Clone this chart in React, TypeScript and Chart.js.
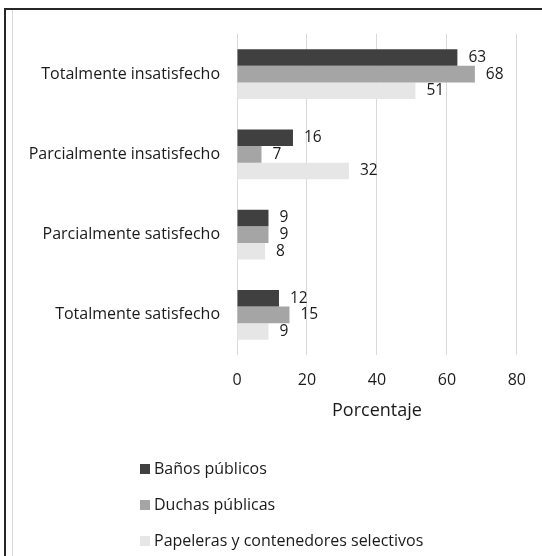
import React, { useEffect, useRef } from "react";
import { Chart, registerables } from "chart.js";

Chart.register(...registerables);

const categories = [
  "Totalmente insatisfecho",
  "Parcialmente insatisfecho",
  "Parcialmente satisfecho",
  "Totalmente satisfecho",
];
const banosPublicos = [63, 16, 9, 12];
const duchasPublicas = [68, 7, 9, 15];
const papeleras = [51, 32, 8, 9];
const seriesNames = [
  "Baños públicos",
  "Duchas públicas",
  "Papeleras y contenedores selectivos",
];
const seriesColors = ["#404040", "#a5a5a5", "#e7e6e6"];
const xTicksMin = 0;
const xTicksMax = 80;
const xTicksStep = 20;
const axisTitle = "Porcentaje";

const FONT = "'Open Sans'";
const TEXT = "#1a1a1a";

const valueLabels = {
  id: "valueLabels",
  afterDatasetsDraw(chart: any) {
    const ctx = chart.ctx;
    ctx.save();
    ctx.font = `15.5px ${FONT}`;
    ctx.fillStyle = TEXT;
    ctx.textAlign = "left";
    ctx.textBaseline = "middle";
    chart.data.datasets.forEach((ds: any, i: number) => {
      const meta = chart.getDatasetMeta(i);
      meta.data.forEach((bar: any, j: number) => {
        ctx.fillText(String(ds.data[j]), bar.x + 11, bar.y);
      });
    });
    ctx.restore();
  },
};

const verticalLegend = {
  id: "verticalLegend",
  afterDraw(chart: any) {
    const ctx = chart.ctx;
    ctx.save();
    ctx.font = `16px ${FONT}`;
    ctx.textAlign = "left";
    ctx.textBaseline = "middle";
    chart.data.datasets.forEach((ds: any, i: number) => {
      const y = 469 + i * 36;
      ctx.fillStyle = ds.backgroundColor;
      ctx.fillRect(140, y - 5, 10, 10);
      ctx.fillStyle = TEXT;
      ctx.fillText(ds.label, 154, y);
    });
    ctx.restore();
  },
};

export default function App() {
  const ref = useRef<HTMLCanvasElement | null>(null);

  useEffect(() => {
    if (!ref.current) return;
    const chart = new Chart(ref.current, {
      type: "bar",
      data: {
        labels: categories,
        datasets: [banosPublicos, duchasPublicas, papeleras].map((d, i) => ({
          label: seriesNames[i],
          data: d,
          backgroundColor: seriesColors[i],
          borderWidth: 0,
          categoryPercentage: 0.622,
          barPercentage: 1,
        })),
      },
      options: {
        indexAxis: "y",
        responsive: false,
        animation: false,
        devicePixelRatio: 1,
        layout: { padding: { top: 34, right: 25, left: 0, bottom: 131 } },
        plugins: {
          legend: { display: false },
          tooltip: { enabled: false },
        },
        scales: {
          y: {
            grid: { display: false, drawTicks: false },
            border: { display: false },
            ticks: {
              color: TEXT,
              font: { family: FONT, size: 16 },
              padding: 17,
            },
            afterFit(scale: any) {
              scale.width = 237;
            },
          },
          x: {
            min: xTicksMin,
            max: xTicksMax,
            grid: { color: "#d9d9d9", lineWidth: 1, drawTicks: false },
            border: { display: false },
            ticks: {
              stepSize: xTicksStep,
              color: TEXT,
              font: { family: FONT, size: 16 },
              padding: 16,
            },
            title: {
              display: true,
              text: axisTitle,
              color: TEXT,
              font: { family: FONT, size: 18 },
              padding: { top: 0, bottom: 3 },
            },
            afterFit(scale: any) {
              scale.height = 70;
            },
          },
        },
      },
      plugins: [valueLabels, verticalLegend],
    });
    return () => chart.destroy();
  }, []);

  return (
    <div
      style={{
        position: "fixed",
        left: 0,
        top: 0,
        width: 542,
        height: 556,
        background: "#ffffff",
        overflow: "hidden",
      }}
    >
      <canvas
        ref={ref}
        width={542}
        height={556}
        style={{ position: "absolute", left: 0, top: 0, width: 542, height: 556 }}
      />
      <div style={{ position: "absolute", left: 4, top: 8, width: 538, height: 2, background: "#262626" }} />
      <div style={{ position: "absolute", left: 4, top: 8, width: 2, height: 548, background: "#262626" }} />
      <div style={{ position: "absolute", left: 12, top: 10, width: 1, height: 546, background: "#d9d9d9" }} />
    </div>
  );
}
